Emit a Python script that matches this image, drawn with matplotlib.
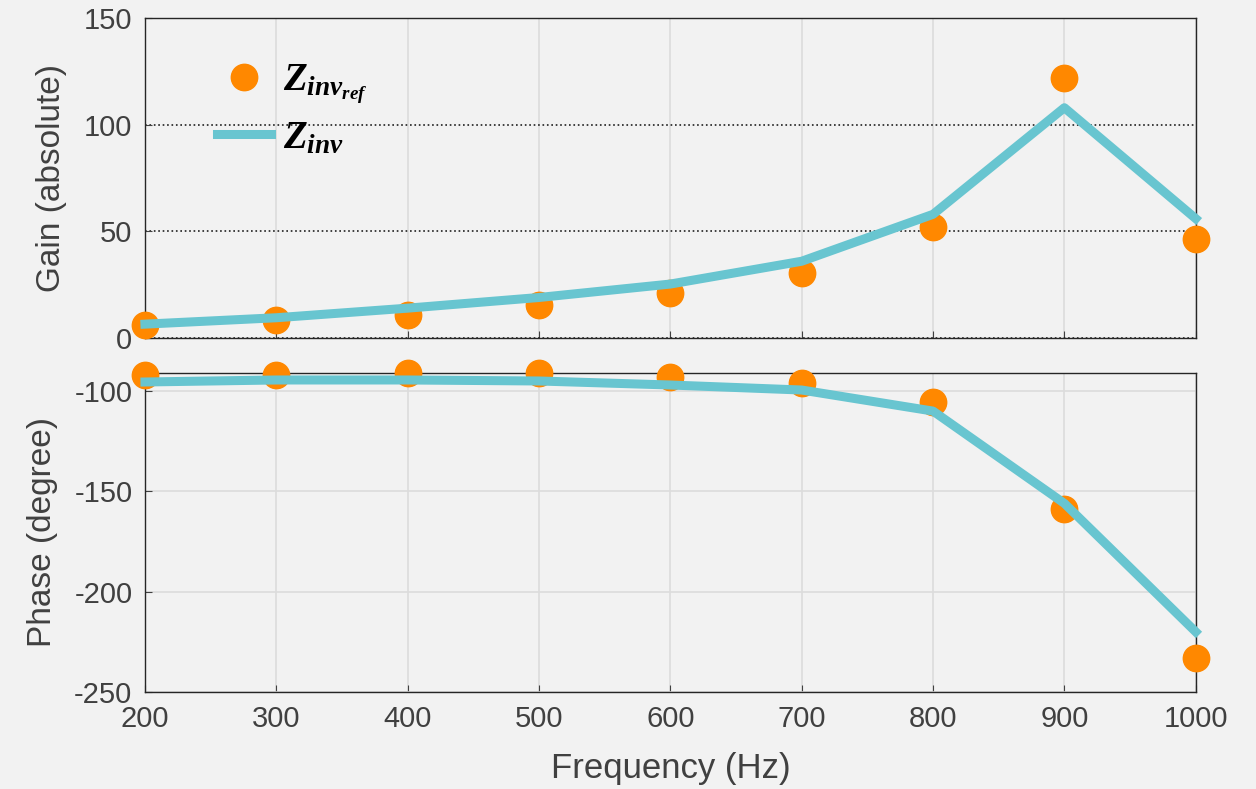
import numpy as np
import matplotlib
matplotlib.use('Agg')
import matplotlib.pyplot as plt

freq = [200, 300, 400, 500, 600, 700, 800, 900, 1000]
gain_ref = [6, 8.4, 11, 15.5, 21, 30.5, 52, 122, 46.5]
gain_inv = [6.5, 9.5, 14, 19, 25.3, 36, 58, 108, 56]
phase_ref = [-92, -92, -91, -91, -93, -96, -105.5, -159, -233]
phase_inv = [-95.5, -94.5, -94.5, -95, -97, -99.5, -110, -156, -220]

plt.rcParams['font.family'] = 'Liberation Sans'
plt.rcParams['axes.unicode_minus'] = False
plt.rcParams['mathtext.fontset'] = 'custom'
plt.rcParams['mathtext.it'] = 'Liberation Serif:italic:bold'
plt.rcParams['mathtext.rm'] = 'Liberation Serif:bold'

bg = '#f2f2f2'
orange = '#ff8800'
cyan = '#68c5d0'
txt = '#404040'

fig = plt.figure(figsize=(12.56, 7.89), dpi=100, facecolor=bg)
ax1 = fig.add_axes([0.1154, 0.5716, 0.8366, 0.4054], facecolor=bg)
ax2 = fig.add_axes([0.1154, 0.1229, 0.8366, 0.4044], facecolor=bg)

for ax in (ax1, ax2):
    ax.set_xlim(200, 1000)
    ax.set_xticks(freq)
    ax.tick_params(direction='in', labelsize=21, colors=txt, length=5, pad=9)
    for s in ax.spines.values():
        s.set_color('#262626')
        s.set_linewidth(1.0)
    ax.set_axisbelow(True)

# top: gain
ax1.plot(freq, gain_ref, 'o', color=orange, markersize=19, clip_on=False,
         label=r'$Z_{inv_{ref}}$', zorder=3)
ax1.plot(freq, gain_inv, '-', color=cyan, linewidth=6.5, clip_on=False,
         label=r'$Z_{inv}$', zorder=4)
ax1.set_ylim(0, 150)
ax1.set_yticks([0, 50, 100, 150])
ax1.set_xticklabels([])
ax1.xaxis.grid(True, color='#dcdcdc', linewidth=1.2)
ax1.yaxis.grid(True, color='#202020', linewidth=1.2, linestyle=':')
ax1.set_ylabel('Gain (absolute)', fontsize=24, color=txt, labelpad=12)
leg = ax1.legend(loc='upper left', bbox_to_anchor=(0.035, 0.97), frameon=False,
                 fontsize=28, handlelength=1.4, labelspacing=0.35, handletextpad=0.3)

# bottom: phase
ax2.plot(freq, phase_ref, 'o', color=orange, markersize=19, clip_on=False, zorder=3)
ax2.plot(freq, phase_inv, '-', color=cyan, linewidth=6.5, clip_on=False, zorder=4)
ax2.set_ylim(-250, -91)
ax2.set_yticks([-250, -200, -150, -100])
ax2.grid(True, color='#dcdcdc', linewidth=1.2)
ax2.set_ylabel('Phase (degree)', fontsize=24, color=txt, labelpad=12)
ax2.set_xlabel('Frequency (Hz)', fontsize=25, color=txt, labelpad=14)

fig.savefig('out.png', dpi=100, facecolor=bg)
